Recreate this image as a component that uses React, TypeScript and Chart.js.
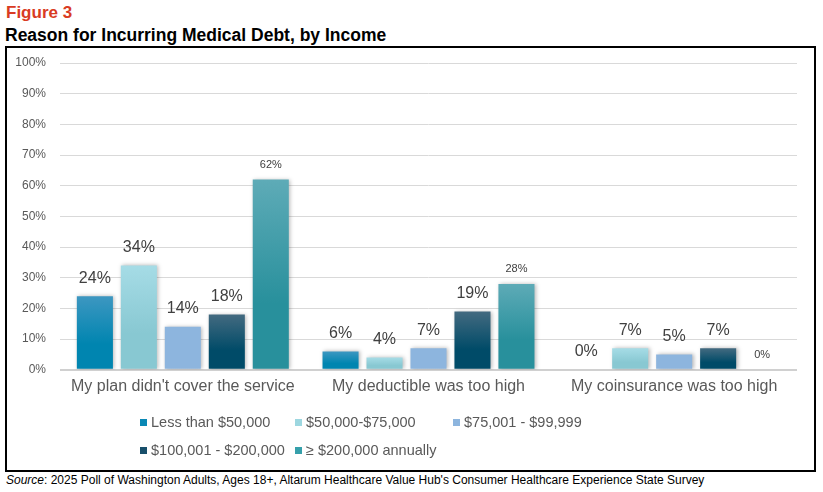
import React, { useEffect, useRef } from "react";
import { Chart, registerables } from "chart.js";

Chart.register(...registerables);

const categories = [
  "My plan didn't cover the service",
  "My deductible was too high",
  "My coinsurance was too high",
];
const seriesLabels = [
  "Less than $50,000",
  "$50,000-$75,000",
  "$75,001 - $99,999",
  "$100,001 - $200,000",
  "\u2265 $200,000 annually",
];
const lessThan50k = [24, 6, 0];
const from50kTo75k = [34, 4, 7];
const from75kTo100k = [14, 7, 5];
const from100kTo200k = [18, 19, 7];
const over200k = [62, 28, 0];
const yTicks = [0, 10, 20, 30, 40, 50, 60, 70, 80, 90, 100];

const seriesValues = [lessThan50k, from50kTo75k, from75kTo100k, from100kTo200k, over200k];
const gradTop = ["#3d97c1", "#a6dce6", "#8db5de", "#436a80", "#5eabb7"];
const gradBottom = ["#0085b0", "#88c8d2", "#8db5de", "#004b68", "#28909c"];
const legendColors = ["#0a88b5", "#9dd7e0", "#8db5de", "#184f6b", "#36a0ab"];
const labelSizes = [16, 16, 16, 16, 11];

const FONT = "'Liberation Sans', Arial, sans-serif";

export default function App() {
  const canvasRef = useRef<HTMLCanvasElement | null>(null);

  useEffect(() => {
    if (!canvasRef.current) return;

    const barFill = (i: number) => (ctx: any) => {
      const chart = ctx.chart;
      const area = chart.chartArea;
      if (!area || ctx.type !== "data") return gradBottom[i];
      const ys = chart.scales.y;
      const v = ctx.raw as number;
      const top = ys.getPixelForValue(v);
      const bottom = ys.getPixelForValue(0);
      if (!(bottom - top > 0.5)) return gradBottom[i];
      const g = chart.ctx.createLinearGradient(0, top, 0, bottom);
      g.addColorStop(0, gradTop[i]);
      g.addColorStop(0.65, gradBottom[i]);
      g.addColorStop(1, gradBottom[i]);
      return g;
    };

    const shadowPlugin = {
      id: "barShadow",
      beforeDatasetsDraw(chart: any) {
        const c = chart.ctx;
        c.save();
        c.shadowColor = "rgba(0,0,0,0.28)";
        c.shadowBlur = 4;
        c.shadowOffsetX = 1.5;
        c.shadowOffsetY = 0;
      },
      afterDatasetsDraw(chart: any) {
        chart.ctx.restore();
      },
    };

    const labelPlugin = {
      id: "valueLabels",
      afterDraw(chart: any) {
        const c = chart.ctx;
        c.save();
        c.textAlign = "center";
        c.textBaseline = "middle";
        c.fillStyle = "#404040";
        chart.data.datasets.forEach((ds: any, di: number) => {
          const meta = chart.getDatasetMeta(di);
          const size = labelSizes[di];
          c.font = `${size}px ${FONT}`;
          meta.data.forEach((el: any, idx: number) => {
            const v = ds.data[idx];
            const off = size > 12 ? 18 : 15;
            c.fillText(`${v}%`, el.x, el.y - off);
          });
        });
        c.restore();
      },
    };

    const chart = new Chart(canvasRef.current, {
      type: "bar",
      data: {
        labels: categories,
        datasets: seriesValues.map((vals, i) => ({
          label: seriesLabels[i],
          data: vals,
          backgroundColor: barFill(i),
          borderWidth: 0,
          barPercentage: 0.82,
          categoryPercentage: 0.895,
        })),
      },
      options: {
        animation: false,
        responsive: true,
        maintainAspectRatio: false,
        layout: { padding: { left: 0, right: 17, top: 15, bottom: 67 } },
        plugins: {
          legend: { display: false },
          tooltip: { enabled: false },
        },
        scales: {
          x: {
            grid: { display: false, drawTicks: false },
            border: { display: false },
            ticks: {
              color: "#595959",
              font: { family: FONT, size: 16 },
              padding: 7,
              maxRotation: 0,
              autoSkip: false,
            },
          },
          y: {
            min: 0,
            max: 100,
            afterFit(scale: any) {
              scale.width = 53;
              scale.paddingTop = 0;
              scale.paddingBottom = 0;
            },
            afterBuildTicks(scale: any) {
              scale.ticks = yTicks.map((v) => ({ value: v }));
            },
            grid: {
              drawTicks: false,
              color: (ctx: any) => (ctx.tick && ctx.tick.value === 0 ? "#d0d0d0" : "#d9d9d9"),
              lineWidth: (ctx: any) => (ctx.tick && ctx.tick.value === 0 ? 2 : 1),
            },
            border: { display: false },
            ticks: {
              color: "#595959",
              font: { family: FONT, size: 12 },
              padding: 14,
              callback: (v: any) => `${v}%`,
            },
          },
        },
      },
      plugins: [shadowPlugin, labelPlugin],
    });

    return () => chart.destroy();
  }, []);

  const legendRows = [
    [0, 1, 2],
    [3, 4],
  ];
  const colX = [133, 288, 446];
  const rowY = [374, 402];

  return (
    <div style={{ position: "relative", width: 823, height: 492, fontFamily: FONT, background: "#fff" }}>
      <style>{"body{margin:0}"}</style>
      <div
        style={{
          position: "absolute",
          left: 6,
          top: 3,
          fontSize: 17,
          fontWeight: "bold",
          color: "#d93b23",
          lineHeight: "20px",
        }}
      >
        Figure 3
      </div>
      <div
        style={{
          position: "absolute",
          left: 5,
          top: 25,
          fontSize: 17.5,
          fontWeight: "bold",
          color: "#000",
          lineHeight: "20px",
        }}
      >
        Reason for Incurring Medical Debt, by Income
      </div>
      <div
        style={{
          position: "absolute",
          left: 5,
          top: 46,
          width: 811,
          height: 426,
          border: "2px solid #000",
          boxSizing: "border-box",
        }}
      >
        <div style={{ position: "absolute", left: 0, top: 0, width: 807, height: 422 }}>
          <canvas ref={canvasRef} />
        </div>
        {legendRows.map((row, ri) =>
          row.map((si, ci) => (
            <div
              key={si}
              style={{
                position: "absolute",
                left: colX[ci],
                top: rowY[ri] - 10,
                height: 20,
                display: "flex",
                alignItems: "center",
                whiteSpace: "nowrap",
                fontSize: 14.5,
                color: "#595959",
              }}
            >
              <span
                style={{
                  display: "inline-block",
                  width: 7,
                  height: 7,
                  background: legendColors[si],
                  marginRight: 4,
                }}
              />
              {seriesLabels[si]}
            </div>
          ))
        )}
      </div>
      <div
        style={{
          position: "absolute",
          left: 6,
          top: 472,
          fontSize: 12,
          color: "#000",
          lineHeight: "16px",
          whiteSpace: "nowrap",
        }}
      >
        <i>Source</i>: 2025 Poll of Washington Adults, Ages 18+, Altarum Healthcare Value Hub's Consumer Healthcare
        Experience State Survey
      </div>
    </div>
  );
}
